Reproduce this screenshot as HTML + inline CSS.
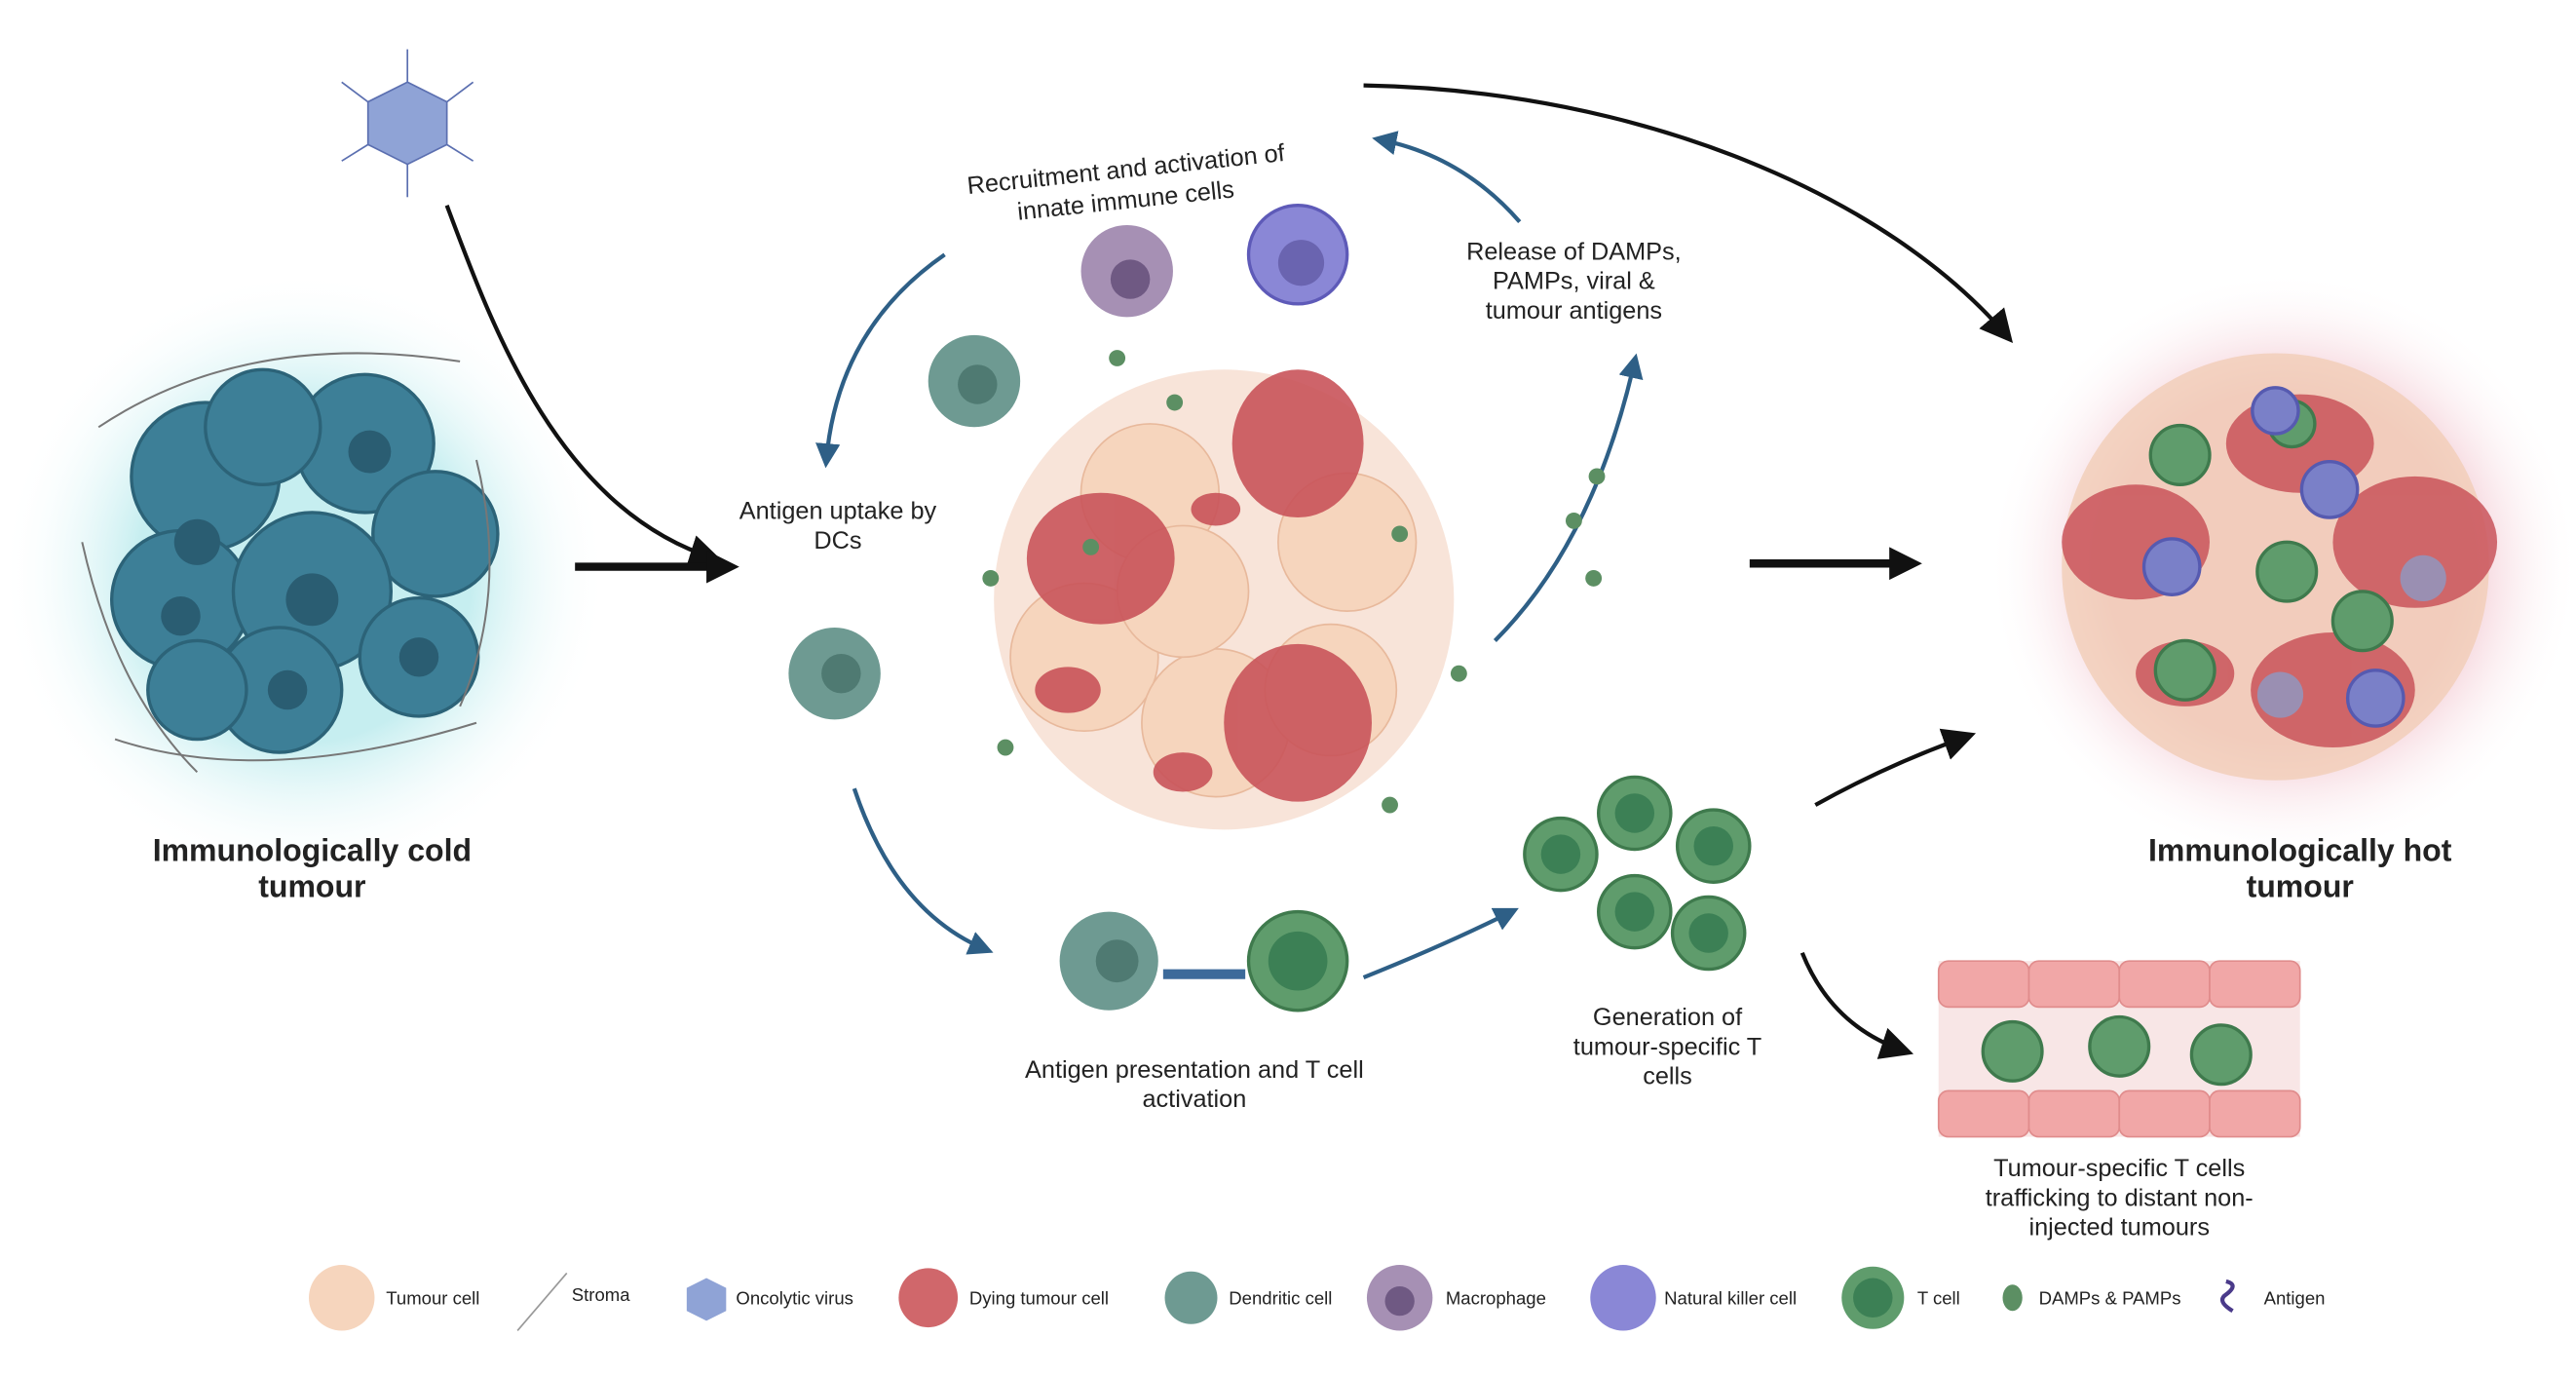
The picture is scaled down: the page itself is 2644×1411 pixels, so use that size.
<!DOCTYPE html>
<html><head><meta charset="utf-8"><style>
html,body{margin:0;padding:0;background:#fff}
svg{display:block}
text{font-family:"Liberation Sans",sans-serif;fill:#222}
</style></head><body>
<svg width="2644" height="1411" viewBox="0 0 1568 837" preserveAspectRatio="none" xmlns="http://www.w3.org/2000/svg">
<defs>
<radialGradient id="cold"><stop offset="0.55" stop-color="#c6eef0"/><stop offset="1" stop-color="#fff" stop-opacity="0"/></radialGradient>
<radialGradient id="hot"><stop offset="0.6" stop-color="#f3c9d2"/><stop offset="1" stop-color="#fff" stop-opacity="0"/></radialGradient>
<marker id="ab" markerWidth="8" markerHeight="8" refX="6" refY="4" orient="auto" markerUnits="strokeWidth"><path d="M0,0L8,4L0,8z" fill="#111"/></marker>
<marker id="abl" markerWidth="6" markerHeight="6" refX="4" refY="3" orient="auto" markerUnits="strokeWidth"><path d="M0,0L6,3L0,6z" fill="#2e5f86"/></marker>
<marker id="abig" markerWidth="4" markerHeight="4" refX="2" refY="2" orient="auto" markerUnits="strokeWidth"><path d="M0,0L4,2L0,4z" fill="#111"/></marker>
</defs>
<!-- cold tumour -->
<circle cx="185" cy="350" r="185" fill="url(#cold)"/>
<g fill="#3d7f97" stroke="#2c6378" stroke-width="2">
<circle cx="125" cy="290" r="45"/><circle cx="222" cy="270" r="42"/><circle cx="265" cy="325" r="38"/>
<circle cx="110" cy="365" r="42"/><circle cx="190" cy="360" r="48"/><circle cx="255" cy="400" r="36"/>
<circle cx="170" cy="420" r="38"/><circle cx="120" cy="420" r="30"/><circle cx="160" cy="260" r="35"/>
</g>
<g fill="#2a5d72"><circle cx="120" cy="330" r="14"/><circle cx="225" cy="275" r="13"/><circle cx="190" cy="365" r="16"/><circle cx="255" cy="400" r="12"/><circle cx="110" cy="375" r="12"/><circle cx="175" cy="420" r="12"/></g>
<g stroke="#777" fill="none" stroke-width="1.2"><path d="M60,260 Q150,200 280,220"/><path d="M70,450 Q160,480 290,440"/><path d="M50,330 Q70,420 120,470"/><path d="M290,280 Q310,360 280,430"/></g>
<text x="190" y="524" font-size="19" font-weight="bold" text-anchor="middle">Immunologically cold</text>
<text x="190" y="546" font-size="19" font-weight="bold" text-anchor="middle">tumour</text>
<!-- virus -->
<polygon points="248,50 272,62 272,88 248,100 224,88 224,62" fill="#8fa3d6" stroke="#5b6fb0"/>
<g stroke="#5b6fb0"><line x1="248" y1="50" x2="248" y2="30"/><line x1="248" y1="100" x2="248" y2="120"/><line x1="224" y1="62" x2="208" y2="50"/><line x1="272" y1="62" x2="288" y2="50"/><line x1="224" y1="88" x2="208" y2="98"/><line x1="272" y1="88" x2="288" y2="98"/></g>
<path d="M272,125 C300,200 340,310 435,340" stroke="#111" stroke-width="2.5" fill="none" marker-end="url(#ab)"/>
<line x1="350" y1="345" x2="440" y2="345" stroke="#111" stroke-width="5" marker-end="url(#abig)"/>
<!-- centre tumour -->
<g>
<circle cx="745" cy="365" r="140" fill="#f3d2bf" opacity=".6"/>
<g fill="#f6d5bd" stroke="#e8b99c"><circle cx="700" cy="300" r="42"/><circle cx="820" cy="330" r="42"/><circle cx="660" cy="400" r="45"/><circle cx="740" cy="440" r="45"/><circle cx="810" cy="420" r="40"/><circle cx="720" cy="360" r="40"/></g>
<g fill="#c9545a" opacity=".9"><ellipse cx="790" cy="270" rx="40" ry="45"/><ellipse cx="670" cy="340" rx="45" ry="40"/><ellipse cx="790" cy="440" rx="45" ry="48"/><ellipse cx="650" cy="420" rx="20" ry="14"/><ellipse cx="740" cy="310" rx="15" ry="10"/><ellipse cx="720" cy="470" rx="18" ry="12"/></g>
<g fill="#5c8f63"><circle cx="680" cy="218" r="5"/><circle cx="715" cy="245" r="5"/><circle cx="603" cy="352" r="5"/><circle cx="852" cy="325" r="5"/><circle cx="888" cy="410" r="5"/><circle cx="612" cy="455" r="5"/><circle cx="846" cy="490" r="5"/><circle cx="664" cy="333" r="5"/></g>
</g>
<!-- innate cells -->
<circle cx="686" cy="165" r="28" fill="#a690b4"/><circle cx="688" cy="170" r="12" fill="#6f5983"/>
<circle cx="790" cy="155" r="30" fill="#8a87d6" stroke="#5e5ab8" stroke-width="2"/><circle cx="792" cy="160" r="14" fill="#6a64b0"/>
<circle cx="593" cy="232" r="28" fill="#6e9a92"/><circle cx="595" cy="234" r="12" fill="#4f7a72"/>
<circle cx="508" cy="410" r="28" fill="#6e9a92"/><circle cx="512" cy="410" r="12" fill="#4f7a72"/>
<circle cx="675" cy="585" r="30" fill="#6e9a92"/><circle cx="680" cy="585" r="13" fill="#4f7a72"/>
<rect x="708" y="590" width="50" height="6" fill="#3c6a9a"/>
<circle cx="790" cy="585" r="30" fill="#5f9c6c" stroke="#3f7a4d" stroke-width="2"/><circle cx="790" cy="585" r="18" fill="#3c8055"/>
<!-- labels centre -->
<text x="685" y="108" font-size="15" text-anchor="middle" transform="rotate(-6 685 100)">Recruitment and activation of</text>
<text x="685" y="127" font-size="15" text-anchor="middle" transform="rotate(-6 685 120)">innate immune cells</text>
<text x="958" y="158" font-size="15" text-anchor="middle">Release of DAMPs,</text>
<text x="958" y="176" font-size="15" text-anchor="middle">PAMPs, viral &amp;</text>
<text x="958" y="194" font-size="15" text-anchor="middle">tumour antigens</text>
<text x="510" y="316" font-size="15" text-anchor="middle">Antigen uptake by</text>
<text x="510" y="334" font-size="15" text-anchor="middle">DCs</text>
<text x="727" y="656" font-size="15" text-anchor="middle">Antigen presentation and T cell</text>
<text x="727" y="674" font-size="15" text-anchor="middle">activation</text>
<text x="1015" y="624" font-size="15" text-anchor="middle">Generation of</text>
<text x="1015" y="642" font-size="15" text-anchor="middle">tumour-specific T</text>
<text x="1015" y="660" font-size="15" text-anchor="middle">cells</text>
<!-- blue arrows -->
<g stroke="#2e5f86" stroke-width="2.5" fill="none">
<path d="M575,155 Q510,200 503,280" marker-end="url(#abl)"/>
<path d="M925,135 Q890,95 840,85" marker-end="url(#abl)"/>
<path d="M910,390 Q970,330 995,220" marker-end="url(#abl)"/>
<path d="M520,480 Q545,555 600,578" marker-end="url(#abl)"/>
<path d="M830,595 Q880,575 920,555" marker-end="url(#abl)"/>
</g>
<g fill="#5c8f63"><circle cx="972" cy="290" r="5"/><circle cx="958" cy="317" r="5"/><circle cx="970" cy="352" r="5"/></g>
<!-- T cells group -->
<g fill="#5f9c6c" stroke="#3f7a4d" stroke-width="2">
<circle cx="995" cy="495" r="22"/><circle cx="950" cy="520" r="22"/><circle cx="1043" cy="515" r="22"/><circle cx="995" cy="555" r="22"/><circle cx="1040" cy="568" r="22"/></g>
<g fill="#3c8055"><circle cx="995" cy="495" r="12"/><circle cx="950" cy="520" r="12"/><circle cx="1043" cy="515" r="12"/><circle cx="995" cy="555" r="12"/><circle cx="1040" cy="568" r="12"/></g>
<!-- black arrows right -->
<path d="M830,52 C1000,55 1150,120 1222,205" stroke="#111" stroke-width="2.5" fill="none" marker-end="url(#ab)"/>
<line x1="1065" y1="343" x2="1160" y2="343" stroke="#111" stroke-width="5" marker-end="url(#abig)"/>
<path d="M1105,490 Q1150,465 1198,448" stroke="#111" stroke-width="2.5" fill="none" marker-end="url(#ab)"/>
<path d="M1097,580 Q1115,625 1160,640" stroke="#111" stroke-width="2.5" fill="none" marker-end="url(#ab)"/>
<!-- hot tumour -->
<circle cx="1390" cy="345" r="180" fill="url(#hot)"/>
<circle cx="1385" cy="345" r="130" fill="#f1cdb6" opacity=".8"/>
<g fill="#c9545a" opacity=".85"><ellipse cx="1300" cy="330" rx="45" ry="35"/><ellipse cx="1470" cy="330" rx="50" ry="40"/><ellipse cx="1400" cy="270" rx="45" ry="30"/><ellipse cx="1420" cy="420" rx="50" ry="35"/><ellipse cx="1330" cy="410" rx="30" ry="20"/></g>
<g fill="#5f9c6c" stroke="#3f7a4d" stroke-width="2"><circle cx="1327" cy="277" r="18"/><circle cx="1392" cy="348" r="18"/><circle cx="1438" cy="378" r="18"/><circle cx="1330" cy="408" r="18"/><circle cx="1395" cy="258" r="14"/></g>
<g fill="#7a80c8" stroke="#565ab0" stroke-width="2"><circle cx="1418" cy="298" r="17"/><circle cx="1322" cy="345" r="17"/><circle cx="1446" cy="425" r="17"/><circle cx="1385" cy="250" r="14"/></g>
<g fill="#9a8fb2"><circle cx="1475" cy="352" r="14"/><circle cx="1388" cy="423" r="14"/></g>
<text x="1400" y="524" font-size="19" font-weight="bold" text-anchor="middle">Immunologically hot</text>
<text x="1400" y="546" font-size="19" font-weight="bold" text-anchor="middle">tumour</text>
<!-- vessel -->
<rect x="1180" y="585" width="220" height="107" fill="#f8e6e6"/>
<g fill="#f1a7a7" stroke="#e08c8c"><rect x="1180" y="585" width="55" height="28" rx="6"/><rect x="1235" y="585" width="55" height="28" rx="6"/><rect x="1290" y="585" width="55" height="28" rx="6"/><rect x="1345" y="585" width="55" height="28" rx="6"/>
<rect x="1180" y="664" width="55" height="28" rx="6"/><rect x="1235" y="664" width="55" height="28" rx="6"/><rect x="1290" y="664" width="55" height="28" rx="6"/><rect x="1345" y="664" width="55" height="28" rx="6"/></g>
<g fill="#5f9c6c" stroke="#3f7a4d" stroke-width="2"><circle cx="1225" cy="640" r="18"/><circle cx="1290" cy="637" r="18"/><circle cx="1352" cy="642" r="18"/></g>
<text x="1290" y="716" font-size="15" text-anchor="middle">Tumour-specific T cells</text>
<text x="1290" y="734" font-size="15" text-anchor="middle">trafficking to distant non-</text>
<text x="1290" y="752" font-size="15" text-anchor="middle">injected tumours</text>
<!-- legend -->
<g font-size="11">
<circle cx="208" cy="790" r="20" fill="#f6d5bd"/><text x="235" y="794">Tumour cell</text>
<path d="M315,810 L345,775" stroke="#999"/><text x="348" y="792">Stroma</text>
<polygon points="430,778 442,784 442,798 430,804 418,798 418,784" fill="#8fa3d6"/><text x="448" y="794">Oncolytic virus</text>
<circle cx="565" cy="790" r="18" fill="#d0676b"/><text x="590" y="794">Dying tumour cell</text>
<circle cx="725" cy="790" r="16" fill="#6e9a92"/><text x="748" y="794">Dendritic cell</text>
<circle cx="852" cy="790" r="20" fill="#a690b4"/><circle cx="852" cy="792" r="9" fill="#6f5983"/><text x="880" y="794">Macrophage</text>
<circle cx="988" cy="790" r="20" fill="#8a87d6"/><text x="1013" y="794">Natural killer cell</text>
<circle cx="1140" cy="790" r="19" fill="#5f9c6c"/><circle cx="1140" cy="790" r="12" fill="#3c8055"/><text x="1167" y="794">T cell</text>
<ellipse cx="1225" cy="790" rx="6" ry="8" fill="#5c8f63"/><text x="1241" y="794">DAMPs &amp; PAMPs</text>
<path d="M1355,780 q8,2 0,8 q-6,4 4,10" stroke="#4a3a8a" stroke-width="2.5" fill="none"/><text x="1378" y="794">Antigen</text>
</g>
</svg>
</body></html>
